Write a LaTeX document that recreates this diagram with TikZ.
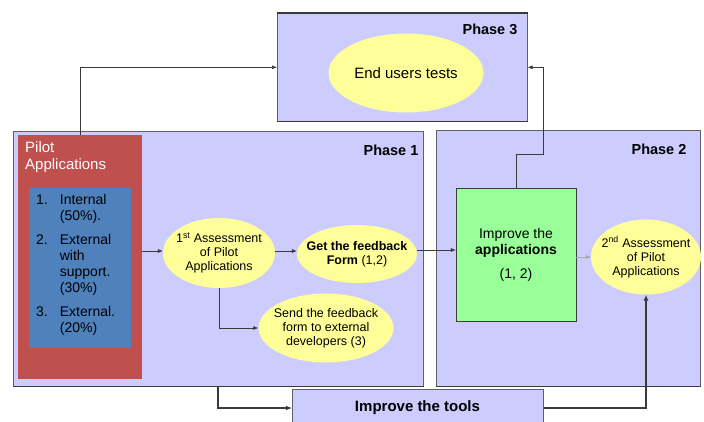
\documentclass[tikz,border=0pt]{standalone}
\usepackage{fontspec}
\setmainfont{Liberation Sans}
\usetikzlibrary{positioning}
\usetikzlibrary{shapes.geometric}
\usetikzlibrary{arrows.meta}
\definecolor{phasefill}{HTML}{CCCCFF}
\definecolor{ovalfill}{HTML}{FFFF99}
\definecolor{pilotred}{HTML}{C0504D}
\definecolor{listblue}{HTML}{4F81BD}
\definecolor{greenfill}{HTML}{99FF99}
\definecolor{edgegray}{HTML}{3A3A3A}

\begin{document}
\begin{tikzpicture}[x=1pt, y=-1pt,
  phase/.style={draw=edgegray!80, fill=phasefill, line width=0.6pt, anchor=north west, inner sep=0pt},
  oval/.style={ellipse, fill=ovalfill, align=center, inner sep=-8pt, font=\fontsize{12.5}{14}\selectfont},
  title/.style={inner sep=0pt, font=\bfseries\fontsize{14.5}{16}\selectfont},
  arrow/.style={-{Latex[length=5pt,width=4pt]}, draw=edgegray, line width=0.6pt},
  thickarrow/.style={-{Latex[length=6pt,width=5pt]}, draw=edgegray, line width=1.6pt}
]
\useasboundingbox (0,0) rectangle (704,422);

% phases
\node[phase, minimum width=250pt, minimum height=108pt] (phase3) at (277,13) {};
\node[phase, minimum width=410pt, minimum height=255pt] (phase1) at (13,131) {};
\node[phase, minimum width=264pt, minimum height=256pt] (phase2) at (436,130) {};
\draw[edgegray, line width=1.6pt] (phase3.north west) -- (phase3.north east);
\draw[edgegray, line width=1.6pt] (phase3.south west) -- (phase3.south east);
\draw[edgegray, line width=1.6pt] (phase1.south west) -- (phase1.south east);
\draw[edgegray, line width=1.6pt] (phase2.south west) -- (phase2.south east);

\node[title, below left=11pt and 10pt of phase3.north east] (title3) {Phase 3};
\node[title, below left=14pt and 5pt of phase1.north east] (title1) {Phase 1};
\node[title, below left=14pt and 14pt of phase2.north east] (title2) {Phase 2};

% pilot applications
\node[fill=pilotred, minimum width=124pt, minimum height=244pt, anchor=north west, inner sep=0pt] (pilot) at (18,135) {};
\node[anchor=north west, inner sep=0pt, text=white, align=left, font=\fontsize{15}{17}\selectfont] (pilottitle) at (25,141) {Pilot\\Applications};
\node[fill=listblue, minimum width=102pt, minimum height=160pt, anchor=north west, inner sep=0pt] (types) at (29,188) {};
\node[anchor=north west, inner sep=0pt, font=\fontsize{14}{16}\selectfont] (typelist) at (36,193) {%
  \begin{tabular}{@{}l@{\hspace{12pt}}l@{}}
  1. & Internal\\ & (50\%).\\[8pt]
  2. & External\\ & with\\ & support.\\ & (30\%)\\[8pt]
  3. & External.\\ & (20\%)
  \end{tabular}};

% phase 3
\node[oval, minimum width=155pt, minimum height=79pt, font=\fontsize{15}{17}\selectfont] (endusers) at (406,73) {End users tests};

% phase 1
\node[oval, minimum width=112pt, minimum height=70pt] (assess1) at (219,253) {1\textsuperscript{st} Assessment\\of Pilot\\Applications};
\node[oval, minimum width=114pt, minimum height=58pt] (feedback) at (357,254) {\textbf{Get the feedback}\\\textbf{Form} (1,2)};
\node[oval, minimum width=135pt, minimum height=69pt] (sendform) at (326,328) {Send the feedback\\form to external\\developers (3)};

% phase 2
\node[draw=edgegray, fill=greenfill, minimum width=120pt, minimum height=133pt, align=center, font=\fontsize{14}{16}\selectfont] (improveapp) at (516,254.5) {Improve the\\\textbf{applications}\\[8pt](1, 2)};
\node[oval, minimum width=110pt, minimum height=75pt] (assess2) at (646,257) {2\textsuperscript{nd} Assessment\\of Pilot\\Applications};

% tools
\node[phase, minimum width=251pt, minimum height=36pt] (tools) at (292,389) {};
\node[title, font=\bfseries\fontsize{15}{17}\selectfont] (toolstext) at (417.5,408) {Improve the tools};

% connectors
\draw[arrow] ([xshift=62pt]pilot.north west) |- (phase3.west);
\draw[arrow] (pilot.east |- 0,251) -- (assess1.west |- 0,251);
\draw[arrow] (assess1.east |- 0,251) -- (feedback.west |- 0,251);
\draw[arrow] (assess1.south) |- (sendform.west);
\draw[arrow] (feedback.east |- 0,250) -- (improveapp.west |- 0,250);
\draw[arrow, draw=gray!70] (improveapp.east |- assess2.west) -- (assess2.west);
\draw[arrow] (improveapp.north) -- ++(0,-33) -| ([xshift=16pt]phase3.east) -- (phase3.east);
\draw[thickarrow] ([xshift=205pt]phase1.south west) |- (tools.west |- toolstext);
\draw[thickarrow] (tools.east |- toolstext) -| (assess2.south);

\end{tikzpicture}
\end{document}
